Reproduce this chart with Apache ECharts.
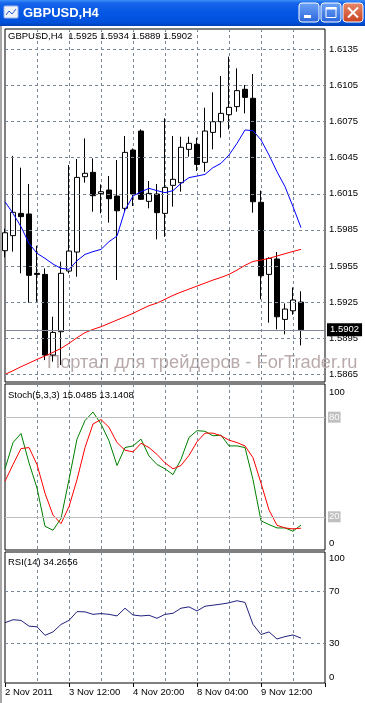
<!DOCTYPE html>
<html><head><meta charset="utf-8">
<script src="https://cdn.jsdelivr.net/npm/echarts@6/dist/echarts.min.js"></script>
<style>html,body{margin:0;padding:0;background:#fff}#c{width:365px;height:703px}</style>
</head><body><div id="c"></div>
<script>
// ---------- data ----------
const times = ['2 Nov 2011','2 Nov 08:00','2 Nov 12:00','2 Nov 16:00','2 Nov 20:00','3 Nov 00:00','3 Nov 04:00','3 Nov 08:00','3 Nov 12:00','3 Nov 16:00','3 Nov 20:00','4 Nov 00:00','4 Nov 04:00','4 Nov 08:00','4 Nov 12:00','4 Nov 16:00','4 Nov 20:00','7 Nov 00:00','7 Nov 04:00','7 Nov 08:00','7 Nov 12:00','7 Nov 16:00','7 Nov 20:00','8 Nov 00:00','8 Nov 04:00','8 Nov 08:00','8 Nov 12:00','8 Nov 16:00','8 Nov 20:00','9 Nov 00:00','9 Nov 04:00','9 Nov 08:00','9 Nov 12:00','9 Nov 16:00','9 Nov 20:00','10 Nov 00:00','10 Nov 04:00','10 Nov 08:00'];
const futureSlots = ['10 Nov 12:00','10 Nov 16:00','10 Nov 20:00'];
const opens  = [1.59677,1.59802,1.59987,1.59982,1.59489,1.59480,1.58810,1.59004,1.59508,1.59666,1.60292,1.60328,1.60151,1.60181,1.60131,1.60029,1.60513,1.60671,1.60087,1.60148,1.59987,1.60220,1.60242,1.60519,1.60561,1.60411,1.60660,1.60749,1.60807,1.60874,1.61018,1.60943,1.60079,1.59480,1.59608,1.59106,1.59178,1.5925];
const highs  = [1.59860,1.60464,1.60367,1.60231,1.59718,1.59530,1.59128,1.59586,1.60389,1.60439,1.60610,1.60444,1.60228,1.60297,1.60430,1.60630,1.60527,1.60685,1.60256,1.60231,1.60777,1.60630,1.60624,1.60624,1.60615,1.60865,1.60993,1.61128,1.61289,1.61192,1.61054,1.61145,1.60176,1.59622,1.59666,1.59239,1.59372,1.5934];
const lows   = [1.59622,1.59669,1.59489,1.59245,1.59253,1.58768,1.58755,1.58727,1.59489,1.59461,1.60242,1.60001,1.59987,1.59910,1.59433,1.60001,1.60048,1.60098,1.60029,1.59771,1.59793,1.60043,1.60167,1.60458,1.60339,1.60333,1.60519,1.60616,1.60685,1.60832,1.60818,1.59993,1.59273,1.59079,1.59023,1.58982,1.59145,1.5889];
const closes = [1.59826,1.59996,1.59960,1.59472,1.59480,1.58810,1.58998,1.59489,1.59674,1.60286,1.60320,1.60134,1.60167,1.60109,1.60009,1.60494,1.60148,1.60104,1.60153,1.59993,1.60203,1.60270,1.60536,1.60569,1.60394,1.60671,1.60749,1.60818,1.60868,1.61007,1.60951,1.60084,1.59469,1.59613,1.59128,1.59192,1.59267,1.5902];
const maFast = [1.60084,1.59987,1.59876,1.59738,1.59655,1.59613,1.59566,1.59530,1.59522,1.59594,1.59646,1.59669,1.59688,1.59752,1.59799,1.60015,1.60131,1.60167,1.60195,1.60176,1.60159,1.60176,1.60236,1.60284,1.60297,1.60311,1.60367,1.60403,1.60472,1.60569,1.60680,1.60674,1.60597,1.60472,1.60333,1.60209,1.60043,1.59868];
const maSlow = [1.58649,1.58680,1.58713,1.58743,1.58774,1.58802,1.58832,1.58865,1.58907,1.58954,1.58996,1.59023,1.59045,1.59073,1.59101,1.59128,1.59156,1.59189,1.59220,1.59242,1.59273,1.59306,1.59333,1.59358,1.59383,1.59408,1.59433,1.59455,1.59480,1.59516,1.59555,1.59588,1.59599,1.59613,1.59633,1.59652,1.59671,1.59688];
const stochMain   = [48.9,64.7,70.2,52.5,37.3,14.3,11.9,19.0,42.4,66.8,78.0,83.1,75.9,65.8,50.9,61.7,62.7,66.8,56.6,51.5,48.9,45.4,54.6,67.8,71.9,71.5,68.8,69.2,62.7,62.7,61.7,42.4,17.6,15.3,13.3,13.3,11.3,15.0485];
const stochSignal = [41.4,51.5,61.1,61.7,51.5,34.2,21.0,15.9,26.1,42.4,61.7,75.9,78.6,73.9,64.7,60.1,59.1,64.3,61.7,57.6,52.5,48.9,50.9,57.0,65.2,70.4,70.4,68.8,66.2,64.7,62.7,55.6,40.3,24.1,14.9,13.3,12.7,13.1408];
const rsi = [46.0,48.3,47.8,43.4,42.9,36.4,39.0,44.7,47.8,54.5,54.3,52.4,53.0,52.4,51.2,57.1,51.9,51.2,51.7,49.4,52.4,53.2,57.1,58.1,55.0,58.6,59.4,60.2,61.2,62.8,61.5,44.7,37.0,39.0,33.6,35.4,36.7,34.2656];
const priceTicks = [1.5865,1.5895,1.5925,1.5955,1.5985,1.6015,1.6045,1.6075,1.6105,1.6135];
const lastPrice = 1.5902;
const stochLevels = [80, 20];
const rsiLevels = [70, 30];
const rsiLabels = [100, 70, 30, 0];

// ---------- chart ----------
const FONT = '"Liberation Sans", Arial, sans-serif';
const cats = times.concat(futureSlots);
const candles = opens.map((o, i) => [o, closes[i], lows[i], highs[i]]);
const gridLine = { color: '#778899', type: [3, 3], width: 1 };
const vSplit = { show: true, interval: (i) => i % 4 === 0 && i > 0 && i < cats.length - 1, lineStyle: gridLine };

function xAx(idx, withLabels) {
  return {
    type: 'category', gridIndex: idx, data: cats, boundaryGap: false,
    axisLine: { show: false },
    axisTick: withLabels ? { show: true, interval: 7, length: 4, lineStyle: { color: '#000' } } : { show: false },
    axisLabel: withLabels ? {
      show: true, interval: 7, align: 'left', margin: 4, fontSize: 9.5, fontFamily: FONT, color: '#000',
      formatter: (v, i) => i < times.length ? v : ''
    } : { show: false },
    splitLine: vSplit
  };
}

const chart = echarts.init(document.getElementById('c'), null, { renderer: 'canvas' });
chart.setOption({
  animation: false,
  backgroundColor: '#ffffff',
  grid: [
    { left: 5, width: 320, top: 29, height: 353, show: true, borderColor: '#000', borderWidth: 1 },
    { left: 5, width: 320, top: 384, height: 166, show: true, borderColor: '#000', borderWidth: 1 },
    { left: 5, width: 320, top: 552, height: 131, show: true, borderColor: '#000', borderWidth: 1 }
  ],
  xAxis: [xAx(0, false), xAx(1, false), xAx(2, true)],
  yAxis: [
    { type: 'value', gridIndex: 0, min: 1.58586, max: 1.61519, axisLine: { show: false }, axisTick: { show: false }, axisLabel: { show: false }, splitLine: { show: false } },
    { type: 'value', gridIndex: 1, min: 0, max: 100, interval: 100, position: 'right',
      axisLine: { show: false }, axisTick: { show: false }, splitLine: { show: false },
      axisLabel: { show: true, margin: 4, fontSize: 9.5, fontFamily: FONT, color: '#000',
        formatter: v => v === 100 ? '{t|100}' : '{b|0}',
        rich: { t: { padding: [16, 0, 0, 0], fontSize: 9.5, fontFamily: FONT, color: '#000' },
                b: { padding: [0, 0, 13, 0], fontSize: 9.5, fontFamily: FONT, color: '#000' } } } },
    { type: 'value', gridIndex: 2, min: 0, max: 100, interval: 10, position: 'right',
      axisLine: { show: false }, axisTick: { show: false }, splitLine: { show: false },
      axisLabel: { show: true, margin: 4, fontSize: 9.5, fontFamily: FONT, color: '#000',
        formatter: v => v === 100 ? '{t|100}' : (v === 0 ? '{b|0}' : (rsiLabels.indexOf(v) >= 0 ? String(v) : '')),
        rich: { t: { padding: [12, 0, 0, 0], fontSize: 9.5, fontFamily: FONT, color: '#000' },
                b: { padding: [0, 0, 12, 0], fontSize: 9.5, fontFamily: FONT, color: '#000' } } } }
  ],
  series: [
    { type: 'line', xAxisIndex: 0, yAxisIndex: 0, data: [], z: 1, silent: true,
      markLine: { symbol: ['none', 'none'], silent: true, animation: false, precision: 5, lineStyle: gridLine,
        label: { position: 'end', distance: 4, color: '#000', fontSize: 9.5, fontFamily: FONT, formatter: p => (+p.value).toFixed(4) },
        data: priceTicks.map(v => ({ yAxis: v })) } },
    { type: 'candlestick', xAxisIndex: 0, yAxisIndex: 0, data: candles, barWidth: 5, z: 3, clip: true,
      itemStyle: { color: '#ffffff', color0: '#000000', borderColor: '#000000', borderColor0: '#000000', borderWidth: 1 } },
    { type: 'line', xAxisIndex: 0, yAxisIndex: 0, data: maSlow, showSymbol: false, z: 4, lineStyle: { color: '#ff0000', width: 1 } },
    { type: 'line', xAxisIndex: 0, yAxisIndex: 0, data: maFast, showSymbol: false, z: 4, lineStyle: { color: '#0000ff', width: 1 } },
    { type: 'line', xAxisIndex: 0, yAxisIndex: 0, data: [], z: 5, silent: true,
      markLine: { symbol: ['none', 'none'], silent: true, animation: false, precision: 5, lineStyle: { color: '#7f8894', type: 'solid', width: 1 },
        label: { position: 'end', distance: 2, color: '#fff', backgroundColor: '#000', padding: [2, 3, 1, 3], fontSize: 9.5, fontFamily: FONT, formatter: () => lastPrice.toFixed(4) },
        data: [{ yAxis: lastPrice }] } },

    { type: 'line', xAxisIndex: 1, yAxisIndex: 1, data: [], z: 1, silent: true,
      markLine: { symbol: ['none', 'none'], silent: true, animation: false, precision: 2, lineStyle: { color: '#c0c0c0', type: 'solid', width: 1 },
        label: { position: 'end', distance: 3, color: '#fff', backgroundColor: '#c0c0c0', padding: [1, 1, 0, 1], fontSize: 9.5, fontFamily: FONT, formatter: p => String(Math.round(p.value)) },
        data: stochLevels.map(v => ({ yAxis: v })) } },
    { type: 'line', xAxisIndex: 1, yAxisIndex: 1, data: stochMain, showSymbol: false, z: 3, lineStyle: { color: '#008000', width: 1 } },
    { type: 'line', xAxisIndex: 1, yAxisIndex: 1, data: stochSignal, showSymbol: false, z: 4, lineStyle: { color: '#ff0000', width: 1 } },

    { type: 'line', xAxisIndex: 2, yAxisIndex: 2, data: [], z: 1, silent: true,
      markLine: { symbol: ['none', 'none'], silent: true, animation: false, precision: 2, lineStyle: gridLine, label: { show: false },
        data: rsiLevels.map(v => ({ yAxis: v })) } },
    { type: 'line', xAxisIndex: 2, yAxisIndex: 2, data: rsi, showSymbol: false, z: 3, lineStyle: { color: '#22227f', width: 1 } }
  ],
  graphic: [
    { type: 'rect', z: 100, shape: { x: 0, y: 0, width: 365, height: 26 },
      style: { fill: new echarts.graphic.LinearGradient(0, 0, 0, 1, [
        { offset: 0, color: '#3d8ff7' }, { offset: 0.12, color: '#1664ea' }, { offset: 0.5, color: '#0456e4' },
        { offset: 0.85, color: '#0052dc' }, { offset: 1, color: '#0040b8' }]) } },
    { type: 'rect', z: 101, shape: { x: 4, y: 6, width: 14, height: 12, r: 1 }, style: { fill: '#eef3fb', stroke: '#9ab4e6', lineWidth: 1 } },
    { type: 'polyline', z: 102, shape: { points: [[6, 15], [9, 11], [12, 14], [16, 9]] }, style: { stroke: '#2a5bd0', lineWidth: 1, fill: null } },
    { type: 'text', z: 101, x: 23, y: 13, style: { text: 'GBPUSD,H4', fill: '#ffffff', font: 'bold 13px ' + FONT, textVerticalAlign: 'middle', verticalAlign: 'middle' } },
    { type: 'rect', z: 101, shape: { x: 299, y: 3, width: 20, height: 19, r: 3 },
      style: { fill: new echarts.graphic.LinearGradient(0, 0, 0, 1, [{ offset: 0, color: '#6ea4f8' }, { offset: 1, color: '#2a64dc' }]), stroke: '#ffffff', lineWidth: 1 } },
    { type: 'rect', z: 102, shape: { x: 304, y: 15, width: 7, height: 3 }, style: { fill: '#ffffff' } },
    { type: 'rect', z: 101, shape: { x: 321, y: 3, width: 20, height: 19, r: 3 },
      style: { fill: new echarts.graphic.LinearGradient(0, 0, 0, 1, [{ offset: 0, color: '#6ea4f8' }, { offset: 1, color: '#2a64dc' }]), stroke: '#ffffff', lineWidth: 1 } },
    { type: 'rect', z: 102, shape: { x: 326, y: 7.5, width: 10, height: 10 }, style: { fill: null, stroke: '#ffffff', lineWidth: 1 } },
    { type: 'rect', z: 102, shape: { x: 326, y: 7, width: 10.5, height: 2.5 }, style: { fill: '#ffffff' } },
    { type: 'rect', z: 101, shape: { x: 343, y: 3, width: 20, height: 19, r: 3 },
      style: { fill: new echarts.graphic.LinearGradient(0, 0, 0, 1, [{ offset: 0, color: '#e98a6a' }, { offset: 1, color: '#c8401f' }]), stroke: '#ffffff', lineWidth: 1 } },
    { type: 'line', z: 102, shape: { x1: 348, y1: 7.5, x2: 358, y2: 17.5 }, style: { stroke: '#ffffff', lineWidth: 2 } },
    { type: 'line', z: 102, shape: { x1: 358, y1: 7.5, x2: 348, y2: 17.5 }, style: { stroke: '#ffffff', lineWidth: 2 } },
    { type: 'rect', z: 100, shape: { x: 0, y: 26, width: 2, height: 677 }, style: { fill: '#a7a7a7' } },
    { type: 'text', z: 0, x: 47, y: 363, style: { text: 'Портал для трейдеров - ForTrader.ru', fill: '#b9abab', font: '18.3px ' + FONT, textVerticalAlign: 'middle', verticalAlign: 'middle' } },
    { type: 'text', z: 50, x: 8, y: 36, style: { text: 'GBPUSD,H4  1.5925 1.5934 1.5889 1.5902', fill: '#000', font: '9.5px ' + FONT, textVerticalAlign: 'middle', verticalAlign: 'middle' } },
    { type: 'text', z: 50, x: 8, y: 395, style: { text: 'Stoch(5,3,3) 15.0485 13.1408', fill: '#000', font: '9.5px ' + FONT, textVerticalAlign: 'middle', verticalAlign: 'middle' } },
    { type: 'text', z: 50, x: 8, y: 562, style: { text: 'RSI(14) 34.2656', fill: '#000', font: '9.5px ' + FONT, textVerticalAlign: 'middle', verticalAlign: 'middle' } }
  ]
});
</script></body></html>
